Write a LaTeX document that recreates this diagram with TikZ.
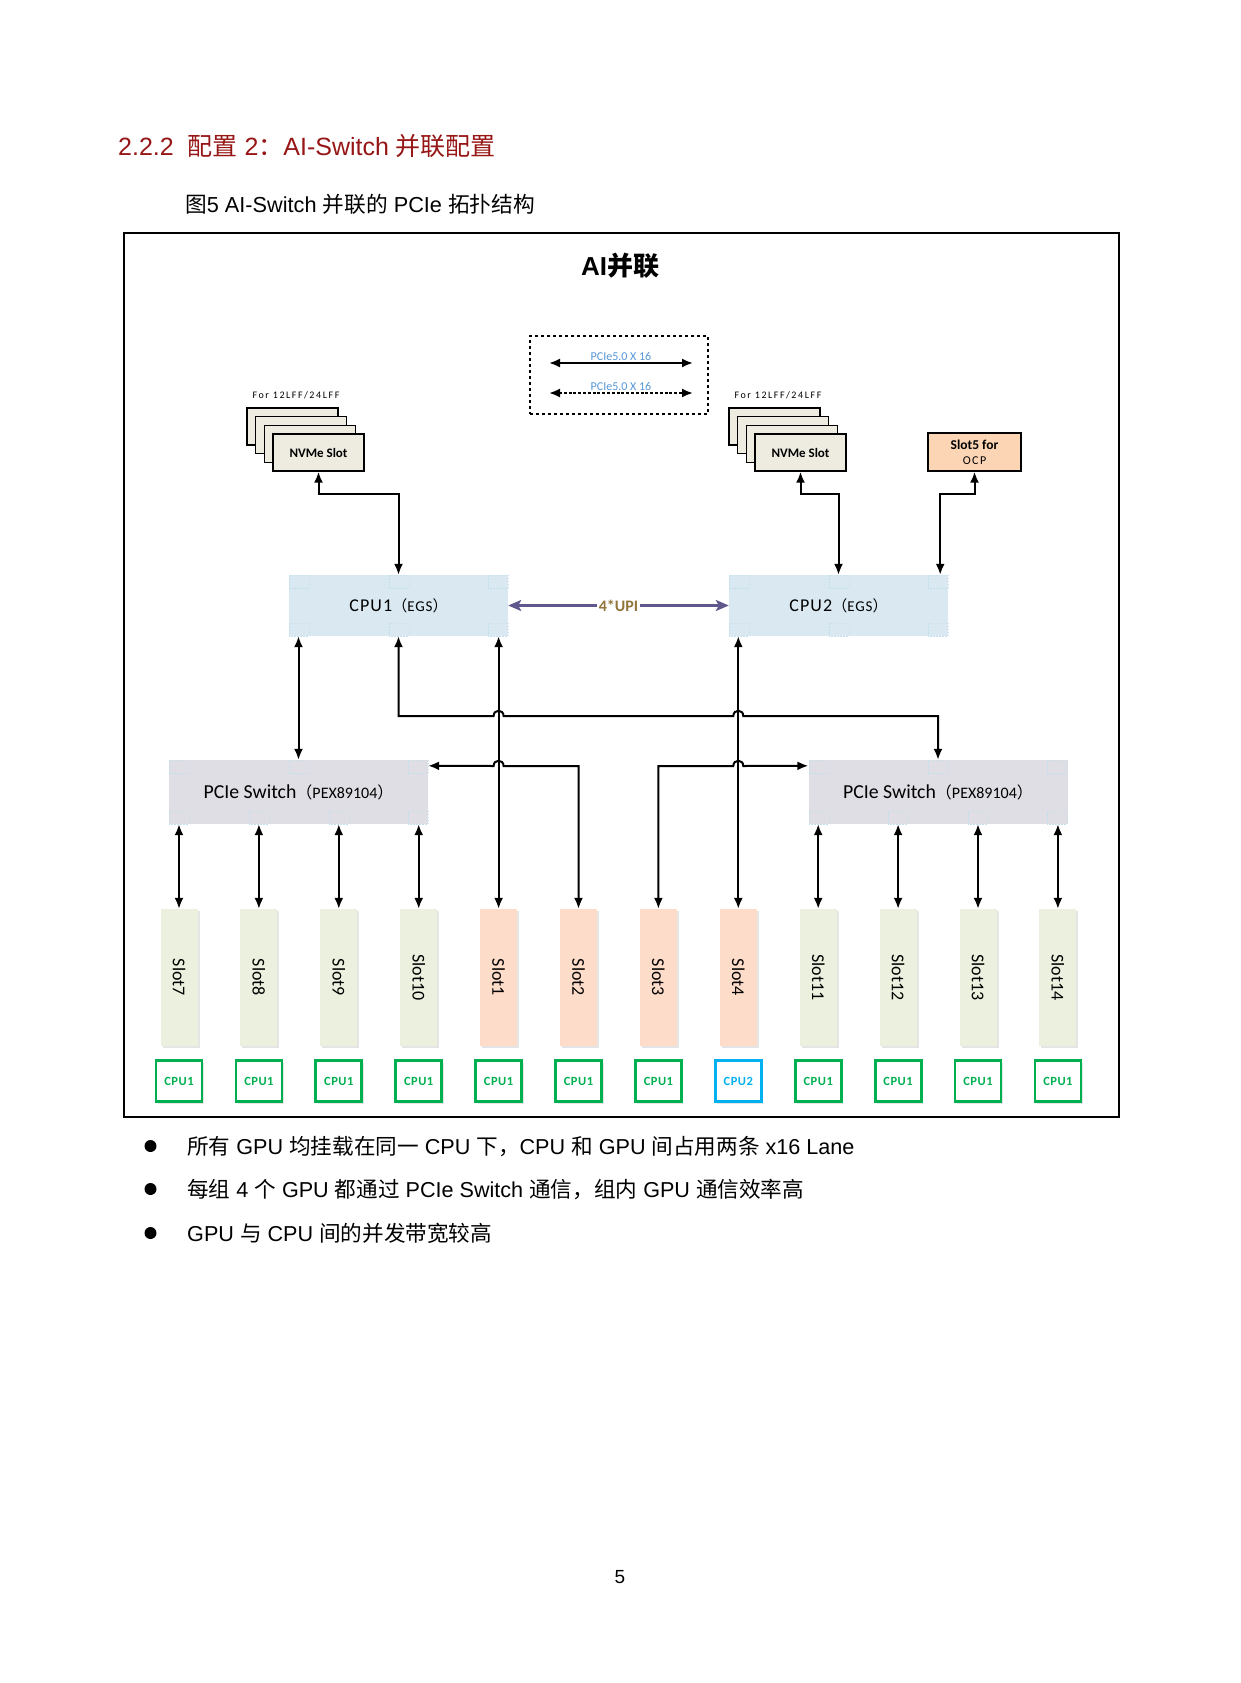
\documentclass[tikz,border=0pt]{standalone}
\usepackage{fontspec}
\usepackage{graphicx}
\setmainfont{Liberation Sans}
\newfontfamily\cjk{Noto Sans CJK SC}
\newfontfamily\calfont{Carlito}
\usetikzlibrary{arrows.meta,calc,shadows}
\definecolor{hred}{RGB}{150,22,22}
\definecolor{cpufill}{RGB}{217,232,241}
\definecolor{swfill}{RGB}{222,222,228}
\definecolor{gslot}{RGB}{235,241,222}
\definecolor{pslot}{RGB}{253,220,202}
\definecolor{ocpfill}{RGB}{252,213,181}
\definecolor{nvfill}{RGB}{238,236,225}
\definecolor{upicol}{RGB}{96,88,140}
\definecolor{upitext}{RGB}{145,116,58}
\definecolor{pcieblue}{RGB}{85,150,215}
\definecolor{cpugreen}{RGB}{0,176,80}
\definecolor{cpublue}{RGB}{0,176,240}
\definecolor{cpcol}{RGB}{195,222,236}
\newcommand{\fs}[1]{\fontsize{#1}{#1}\selectfont}
\newcommand{\zh}[1]{{\cjk #1}}
\begin{document}
\begin{tikzpicture}[x=1pt,y=-1pt,
  >={Latex[length=11pt,width=9pt]},
  conn/.style={line width=2pt,<->},
  upi/.style={line width=3pt,draw=upicol,{Stealth[length=13pt,width=11pt,inset=3pt]}-{Stealth[length=13pt,width=11pt,inset=3pt]}},
  nvme/.style={draw=black,line width=1.4pt,fill=nvfill,minimum width=91pt,minimum height=37pt,inner sep=0},
  cpub/.style={fill=cpufill,minimum width=219pt,minimum height=61pt,inner sep=0},
  swb/.style={fill=swfill,minimum width=259pt,minimum height=64pt,inner sep=0},
  slotbox/.style={minimum width=37pt,minimum height=137pt,inner sep=0,font=\calfont\fs{18},drop shadow={shadow xshift=2pt,shadow yshift=-2pt,fill=black,opacity=0.10}},
  gpu/.style={line width=2.8pt,fill=white,minimum width=46pt,minimum height=41pt,inner sep=0,font=\calfont\bfseries\fs{12.5},drop shadow={shadow xshift=2pt,shadow yshift=-2pt,fill=black,opacity=0.10}},
  cpsq/.style={draw=cpcol,line width=0.8pt,dash pattern=on 1.5pt off 1.5pt},
  forlab/.style={font=\calfont\fs{10}\addfontfeature{LetterSpace=16},inner sep=0},
  pcielab/.style={font=\calfont\fs{12},text=pcieblue,inner sep=0}
]
\useasboundingbox (0,0) rectangle (1240,1683);
\fill[white] (0,0) rectangle (1240,1683);

% headings
\node[anchor=base west,inner sep=0,text=hred,font=\fs{25}] (head) at (118,155)
  {2.2.2\hspace{0.55em}\zh{配置} 2\zh{：}AI-Switch \zh{并联配置}};
\node[anchor=base west,inner sep=0,font=\fs{21.7}] (cap) at (185,212)
  {\zh{图}5 AI-Switch \zh{并联的} PCIe \zh{拓扑结构}};

% frame
\node[draw,line width=2.8pt,minimum width=995pt,minimum height=884pt,inner sep=0] (frame) at (621.5,675) {};
\node[font=\bfseries\fs{26},inner sep=0] (title) at (620,266) {AI{\cjk\bfseries 并联}};

% legend
\node[draw,dashed,line width=1.3pt,minimum width=178pt,minimum height=78pt,inner sep=0] (legend) at (619,375) {};
\coordinate (la1) at (549,363);
\coordinate (lb1) at (693,363);
\coordinate (la2) at (549,393);
\coordinate (lb2) at (693,393);
\draw[conn] (la1) -- node[pcielab,yshift=7pt] (ll1) {PCIe5.0 X 16} (lb1);
\draw[conn,dash pattern=on 3pt off 1.8pt] (la2) -- node[pcielab,yshift=7pt] (ll2) {PCIe5.0 X 16} (lb2);

% NVMe stacks
\node[nvme] (nvL3) at (292.4,426.4) {};
\node[nvme] (nvL2) at (301.1,435.1) {};
\node[nvme] (nvL1) at (309.8,443.8) {};
\node[nvme,font=\calfont\bfseries\fs{13}] (nvL) at (318.5,452.5) {NVMe Slot};
\node[forlab] (forL) at (296,395) {For 12LFF/24LFF};
\node[nvme] (nvR3) at (774.4,426.4) {};
\node[nvme] (nvR2) at (783.1,435.1) {};
\node[nvme] (nvR1) at (791.8,443.8) {};
\node[nvme,font=\calfont\bfseries\fs{13}] (nvR) at (800.5,452.5) {NVMe Slot};
\node[forlab] (forR) at (778,395) {For 12LFF/24LFF};
\node[draw=black,line width=1.4pt,fill=ocpfill,minimum width=93pt,minimum height=38pt,inner sep=0,align=center] (ocp) at (974.5,452)
  {{\calfont\bfseries\fs{13.5}Slot5 for}\\[3pt]{\calfont\fs{12}\addfontfeature{LetterSpace=12}OCP}};

% CPUs
\node[cpub] (cpu1) at (398.5,605.5)
  {{\calfont\fs{18}\addfontfeature{LetterSpace=6}CPU1}{\cjk\fs{15}（}{\calfont\fs{15}\addfontfeature{LetterSpace=6}EGS}{\cjk\fs{15}）}};
\node[cpub] (cpu2) at (838.5,605.5)
  {{\calfont\fs{18}\addfontfeature{LetterSpace=6}CPU2}{\cjk\fs{15}（}{\calfont\fs{15}\addfontfeature{LetterSpace=6}EGS}{\cjk\fs{15}）}};
\foreach \xx in {289,389,488,729,829,928}{
  \draw[cpsq] (\xx,575) rectangle ++(20,13);
  \draw[cpsq] (\xx,623) rectangle ++(20,13);
}

% switches
\node[swb] (swL) at (298.5,792)
  {{\calfont\fs{19.8}PCIe Switch}{\cjk\fs{16}（}{\calfont\fs{16}PEX89104}{\cjk\fs{16}）}};
\node[swb] (swR) at (938,792)
  {{\calfont\fs{19.8}PCIe Switch}{\cjk\fs{16}（}{\calfont\fs{16}PEX89104}{\cjk\fs{16}）}};
\foreach \xx in {169,289,408,809,928,1047}{\draw[cpsq] (\xx,760) rectangle ++(20,13);}
\foreach \xx in {169,249,329,408,809,888,968,1047}{\draw[cpsq] (\xx,811) rectangle ++(20,13);}

% slots and GPU labels
\foreach \nm/\lab/\col/\gc/\gl [count=\k from 0] in {
  s7/Slot7/gslot/cpugreen/CPU1, s8/Slot8/gslot/cpugreen/CPU1, s9/Slot9/gslot/cpugreen/CPU1, s10/Slot10/gslot/cpugreen/CPU1,
  s1/Slot1/pslot/cpugreen/CPU1, s2/Slot2/pslot/cpugreen/CPU1, s3/Slot3/pslot/cpugreen/CPU1, s4/Slot4/pslot/cpublue/CPU2,
  s11/Slot11/gslot/cpugreen/CPU1, s12/Slot12/gslot/cpugreen/CPU1, s13/Slot13/gslot/cpugreen/CPU1, s14/Slot14/gslot/cpugreen/CPU1}{
  \node[slotbox,fill=\col] (\nm) at ({179+79.9*\k},977.5) {\rotatebox{-90}{\lab}};
  \node[gpu,draw=\gc,text=\gc] (g\nm) at ({179+79.9*\k},1081) {\addfontfeature{LetterSpace=4}\gl};
}

% UPI
\draw[upi] (cpu1.east) -- node[fill=white,text=upitext,font=\calfont\bfseries\fs{16},inner sep=2pt] (upilab) {4*UPI} (cpu2.west);

% connectors top
\draw[conn] (nvL.south) -- ++(0,22) -| (cpu1.north);
\draw[conn] (nvR.south) -- ++(0,22) -| (cpu2.north);
\draw[conn] (ocp.south) -- ++(0,22) -| ([xshift=-8pt]cpu2.north east);

% CPU to switches / slots
\draw[conn] (cpu1.south west -| swL.north) -- (swL.north);
\draw[conn] (cpu1.south -| s1.north) -- (s1.north);
\draw[conn] (cpu2.south -| s4.north) -- (s4.north);
\draw[conn] (cpu1.south) -- (398.5,716) -- (493.6,716) .. controls (493.6,709) and (503.6,709) .. (503.6,716)
  -- (733.3,716) .. controls (733.3,709) and (743.3,709) .. (743.3,716) -- (swR.north |- 0,716) -- (swR.north);
\draw[conn] ($(swL.north east)+(0,6)$) -- (493.6,766) .. controls (493.6,759) and (503.6,759) .. (503.6,766)
  -- (s2.north |- 0,766) -- (s2.north);
\draw[conn] ($(swR.north west)+(0,6)$) -- (743.3,766) .. controls (743.3,759) and (733.3,759) .. (733.3,766)
  -- (s3.north |- 0,766) -- (s3.north);
\foreach \s in {s7,s8,s9,s10}{\draw[conn] (swL.south -| \s.north) -- (\s.north);}
\foreach \s in {s11,s12,s13,s14}{\draw[conn] (swR.south -| \s.north) -- (\s.north);}

% bullets
\node[circle,fill=black,inner sep=0,minimum size=12pt] (b1) at (150.5,1146) {};
\node[circle,fill=black,inner sep=0,minimum size=12pt] (b2) at (150.5,1189) {};
\node[circle,fill=black,inner sep=0,minimum size=12pt] (b3) at (150.5,1233) {};
\node[anchor=base west,inner sep=0,font=\fs{21.6}] (t1) at (187,1154)
  {\zh{所有} GPU \zh{均挂载在同一} CPU \zh{下，}CPU \zh{和} GPU \zh{间占用两条} x16 Lane};
\node[anchor=base west,inner sep=0,font=\fs{21.6}] (t2) at (187,1197)
  {\zh{每组} 4 \zh{个} GPU \zh{都通过} PCIe Switch \zh{通信，组内} GPU \zh{通信效率高}};
\node[anchor=base west,inner sep=0,font=\fs{21.6}] (t3) at (187,1241)
  {GPU \zh{与} CPU \zh{间的并发带宽较高}};

\node[font=\fs{19},inner sep=0] (pg) at (620,1577) {5};
\end{tikzpicture}
\end{document}
